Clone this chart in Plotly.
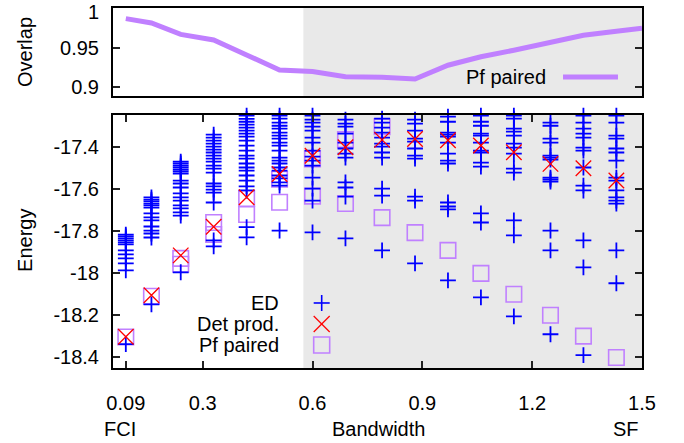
import plotly.graph_objects as go

# ---------------- data ----------------
bandwidth = [0.09, 0.16, 0.24, 0.33, 0.42, 0.51, 0.60, 0.69, 0.79, 0.88,
             0.97, 1.06, 1.15, 1.25, 1.34, 1.43]

# Exact diagonalisation energies (several states per bandwidth)
ed_levels = [
    [-17.817, -17.826, -17.835, -17.845, -17.854, -17.864, -17.892, -17.911, -17.930, -17.954, -17.987, -18.337],
    [-17.641, -17.651, -17.660, -17.670, -17.679, -17.689, -17.717, -17.736, -17.750, -17.779, -17.798, -17.812, -17.831, -18.148],
    [-17.471, -17.480, -17.490, -17.499, -17.509, -17.518, -17.528, -17.561, -17.575, -17.594, -17.622, -17.641, -17.656, -17.679, -17.693, -17.712, -17.727, -17.996],
    [-17.343, -17.357, -17.372, -17.386, -17.400, -17.414, -17.428, -17.443, -17.457, -17.471, -17.490, -17.504, -17.523, -17.575, -17.589, -17.604, -17.618, -17.665, -17.845, -17.873],
    [-17.253, -17.268, -17.282, -17.296, -17.310, -17.324, -17.338, -17.353, -17.372, -17.395, -17.419, -17.443, -17.457, -17.480, -17.499, -17.514, -17.537, -17.561, -17.589, -17.608, -17.782, -17.830],
    [-17.253, -17.267, -17.286, -17.301, -17.315, -17.334, -17.348, -17.362, -17.381, -17.395, -17.419, -17.452, -17.466, -17.480, -17.499, -17.514, -17.537, -17.551, -17.570, -17.585, -17.798],
    [-17.253, -17.272, -17.286, -17.305, -17.324, -17.357, -17.381, -17.419, -17.447, -17.466, -17.490, -17.547, -17.599, -17.656, -17.807],
    [-17.272, -17.291, -17.305, -17.338, -17.381, -17.409, -17.433, -17.452, -17.570, -17.594, -17.637, -17.835],
    [-17.267, -17.286, -17.310, -17.334, -17.357, -17.386, -17.400, -17.428, -17.452, -17.599, -17.632, -17.892],
    [-17.272, -17.291, -17.324, -17.362, -17.376, -17.409, -17.443, -17.457, -17.637, -17.656, -17.954],
    [-17.258, -17.282, -17.334, -17.343, -17.353, -17.381, -17.433, -17.466, -17.480, -17.665, -17.684, -17.698, -18.034],
    [-17.253, -17.282, -17.301, -17.338, -17.348, -17.381, -17.419, -17.428, -17.476, -17.495, -17.717, -17.760, -18.115],
    [-17.253, -17.267, -17.315, -17.329, -17.348, -17.386, -17.405, -17.433, -17.504, -17.523, -17.750, -17.821, -18.205],
    [-17.286, -17.301, -17.362, -17.381, -17.443, -17.452, -17.462, -17.547, -17.556, -17.566, -17.798, -17.892, -18.290],
    [-17.253, -17.286, -17.315, -17.338, -17.357, -17.405, -17.419, -17.499, -17.585, -17.608, -17.845, -17.973, -18.389],
    [-17.253, -17.286, -17.348, -17.362, -17.409, -17.428, -17.466, -17.547, -17.561, -17.608, -17.641, -17.656, -17.670, -17.892, -18.048],
]

# Determinant product energies
det_prod = [-18.302, -18.105, -17.916, -17.780, -17.640, -17.530, -17.443, -17.403,
            -17.368, -17.364, -17.370, -17.395, -17.427, -17.482, -17.503, -17.561]

# Pfaffian paired energies (two branches)
pf_upper_x = [0.09, 0.16, 0.24, 0.33, 0.42, 0.51, 0.60, 0.69, 0.79]
pf_upper_E = [-18.303, -18.110, -17.930, -17.760, -17.646, -17.555, -17.458, -17.367, -17.305]
pf_lower_x = [0.24, 0.33, 0.42, 0.51, 0.60, 0.69, 0.79, 0.88, 0.97, 1.06, 1.15, 1.25, 1.34, 1.43]
pf_lower_E = [-17.958, -17.817, -17.722, -17.664, -17.635, -17.670, -17.737, -17.808,
              -17.892, -18.001, -18.100, -18.200, -18.299, -18.400]

# Overlap of Pf paired state
overlap_x = bandwidth + [1.5]
overlap = [0.987, 0.9815, 0.967, 0.960, 0.941, 0.922, 0.920, 0.9135, 0.9127, 0.9106,
           0.928, 0.9387, 0.947, 0.957, 0.966, 0.971, 0.975]

x_ticks = [0.09, 0.3, 0.6, 0.9, 1.2, 1.5]
x_ticktext = ["0.09", "0.3", "0.6", "0.9", "1.2", "1.5"]
e_ticks = [-18.4, -18.2, -18.0, -17.8, -17.6, -17.4]
e_ticktext = ["-18.4", "-18.2", "-18", "-17.8", "-17.6", "-17.4"]
o_ticks = [0.9, 0.95, 1.0]
o_ticktext = ["0.9", "0.95", "1"]

# ---------------- style ----------------
FONT = "Liberation Sans, Arial, Helvetica, sans-serif"
FS = 20
BLUE = "#0000ff"
RED = "#ff0000"
PURPLE = "#c080ff"
GRAY = "#e9e9e9"

ed_x, ed_y = [], []
for xv, levels in zip(bandwidth, ed_levels):
    for e in levels:
        ed_x.append(xv)
        ed_y.append(e)

fig = go.Figure()

# top: overlap
fig.add_trace(go.Scatter(x=overlap_x, y=overlap, mode="lines",
                         line=dict(color=PURPLE, width=5),
                         xaxis="x2", yaxis="y2", showlegend=False))

# bottom: energies
fig.add_trace(go.Scatter(x=pf_upper_x + pf_lower_x, y=pf_upper_E + pf_lower_E, mode="markers",
                         marker=dict(symbol="square-open", size=15.5,
                                     line=dict(color=PURPLE, width=1.6), color=PURPLE),
                         xaxis="x", yaxis="y", showlegend=False, cliponaxis=False))
fig.add_trace(go.Scatter(x=ed_x, y=ed_y, mode="markers",
                         marker=dict(symbol="cross-thin", size=11.3,
                                     line=dict(color=BLUE, width=1.8), color=BLUE),
                         xaxis="x", yaxis="y", showlegend=False, cliponaxis=False))
fig.add_trace(go.Scatter(x=bandwidth, y=det_prod, mode="markers",
                         marker=dict(symbol="x-thin", size=15.5,
                                     line=dict(color=RED, width=1.3), color=RED),
                         xaxis="x", yaxis="y", showlegend=False, cliponaxis=False))

axis_common = dict(showgrid=False, zeroline=False, showline=True, linecolor="black",
                   linewidth=2, ticks="inside", ticklen=7, tickwidth=1.5, tickcolor="#222",
                   automargin=False,
                   tickfont=dict(family=FONT, size=FS, color="black"))

shapes = []
for xr, yr in (("x", "y domain"), ("x2", "y2 domain")):
    shapes.append(dict(type="rect", xref=xr, yref=yr, x0=0.575, x1=1.5, y0=0, y1=1,
                       fillcolor=GRAY, line=dict(width=0), layer="below"))

# legend keys (bottom)
W, H = 529.0, 360.0
def px(dx):
    return dx / W
def py(dy):
    return dy / H
kx = 0.3945
ky = [0.1806, 0.1222, 0.0639]
h = 8
shapes += [
    dict(type="line", xref="paper", yref="paper", x0=kx - px(h), x1=kx + px(h), y0=ky[0], y1=ky[0],
         line=dict(color=BLUE, width=1.6)),
    dict(type="line", xref="paper", yref="paper", x0=kx, x1=kx, y0=ky[0] - py(h), y1=ky[0] + py(h),
         line=dict(color=BLUE, width=1.6)),
    dict(type="line", xref="paper", yref="paper", x0=kx - px(h), x1=kx + px(h), y0=ky[1] - py(h), y1=ky[1] + py(h),
         line=dict(color=RED, width=1.3)),
    dict(type="line", xref="paper", yref="paper", x0=kx - px(h), x1=kx + px(h), y0=ky[1] + py(h), y1=ky[1] - py(h),
         line=dict(color=RED, width=1.3)),
    dict(type="rect", xref="paper", yref="paper", x0=kx - px(h), x1=kx + px(h), y0=ky[2] - py(h), y1=ky[2] + py(h),
         line=dict(color=PURPLE, width=1.6)),
    # top legend line
    dict(type="line", xref="paper", yref="paper", x0=0.8507, x1=0.9546, y0=0.8083, y1=0.8083,
         line=dict(color=PURPLE, width=5)),
]

ann_font = dict(family=FONT, size=FS, color="black")
annotations = [
    dict(text="ED", x=0.3176, y=ky[0], xref="paper", yref="paper", xanchor="right", yanchor="middle",
         showarrow=False, font=ann_font),
    dict(text="Det prod.", x=0.3176, y=ky[1], xref="paper", yref="paper", xanchor="right", yanchor="middle",
         showarrow=False, font=ann_font),
    dict(text="Pf paired", x=0.3176, y=ky[2], xref="paper", yref="paper", xanchor="right", yanchor="middle",
         showarrow=False, font=ann_font),
    dict(text="Pf paired", x=0.8223, y=0.8083, xref="paper", yref="paper", xanchor="right", yanchor="middle",
         showarrow=False, font=ann_font),
    dict(text="Overlap", x=-0.1664, y=0.8778, xref="paper", yref="paper", xanchor="center", yanchor="middle",
         textangle=-90, showarrow=False, font=ann_font),
    dict(text="Energy", x=-0.1664, y=0.3556, xref="paper", yref="paper", xanchor="center", yanchor="middle",
         textangle=-90, showarrow=False, font=ann_font),
    dict(text="FCI", x=0.0132, y=-0.169, xref="paper", yref="paper", xanchor="center", yanchor="middle",
         showarrow=False, font=ann_font),
    dict(text="Bandwidth", x=0.502, y=-0.169, xref="paper", yref="paper", xanchor="center", yanchor="middle",
         showarrow=False, font=ann_font),
    dict(text="SF", x=0.970, y=-0.169, xref="paper", yref="paper", xanchor="center", yanchor="middle",
         showarrow=False, font=ann_font),
    # top tick label of the overlap axis, nudged down so it stays inside the page
    dict(text=o_ticktext[-1], x=-0.0227, y=0.9875, xref="paper", yref="paper", xanchor="right",
         yanchor="middle", showarrow=False, font=ann_font),
]

fig.update_layout(
    width=684, height=443,
    margin=dict(l=113, r=42, t=8, b=75, autoexpand=False),
    paper_bgcolor="white", plot_bgcolor="white",
    showlegend=False,
    xaxis=dict(domain=[0, 1], range=[0.055, 1.5], anchor="y", tickvals=x_ticks, ticktext=x_ticktext,
               mirror="ticks", ticklabelstandoff=16, **axis_common),
    yaxis=dict(domain=[0, 0.7028], range=[-18.45, -17.25], anchor="x", tickvals=e_ticks,
               ticktext=e_ticktext, mirror="ticks", ticklabelstandoff=8, **axis_common),
    xaxis2=dict(domain=[0, 1], range=[0.055, 1.5], anchor="y2", matches="x", showticklabels=False,
                showgrid=False, zeroline=False, showline=True, linecolor="black", linewidth=2,
                ticks="", mirror=True, automargin=False),
    yaxis2=dict(domain=[0.7556, 1], range=[0.889, 1.0005], anchor="x2", tickvals=o_ticks,
                ticktext=o_ticktext[:-1] + [""], mirror="ticks", ticklabelstandoff=8,
                **axis_common),
    shapes=shapes,
    annotations=annotations,
)

fig.write_html("out.html", config={"displayModeBar": False},
               post_script="document.body.style.margin='0px';document.body.style.overflow='hidden';")
